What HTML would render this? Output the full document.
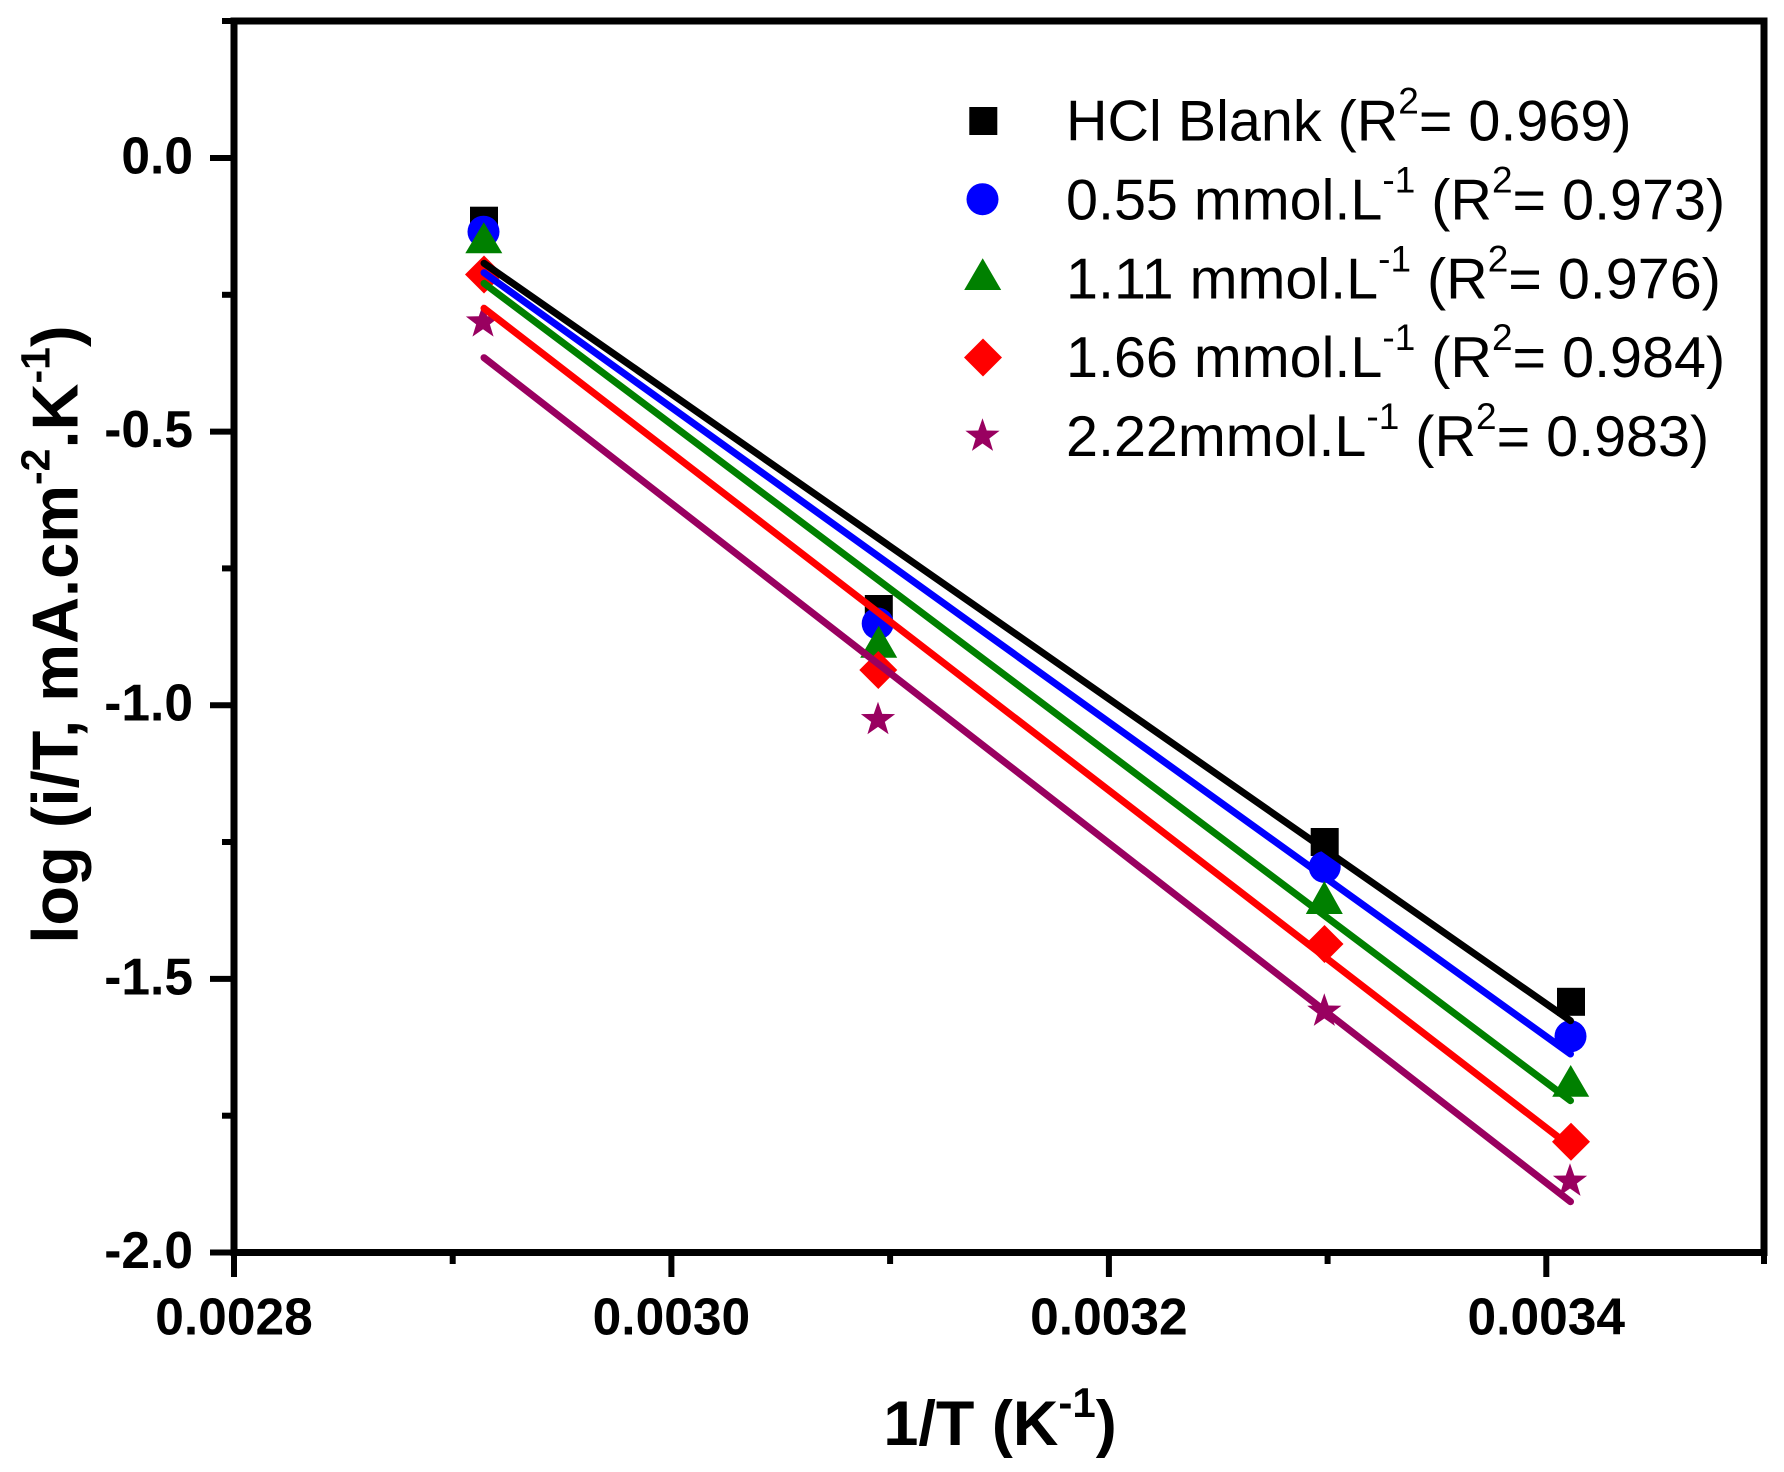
<!DOCTYPE html>
<html>
<head>
<meta charset="utf-8">
<style>
  html, body { margin: 0; padding: 0; background: #ffffff; }
  svg { display: block; }
  text { font-family: "Liberation Sans", Arial, sans-serif; }
</style>
</head>
<body>
<svg width="1784" height="1472" viewBox="0 0 1784 1472" xmlns="http://www.w3.org/2000/svg">
  <defs>
    <path id="star" d="M0,-18 L4.232,-5.825 L17.119,-5.562 L6.848,2.225 L10.58,14.562 L0,7.2 L-10.58,14.562 L-6.848,2.225 L-17.119,-5.562 L-4.232,-5.825 Z"/>
  </defs>
  <rect x="0" y="0" width="1784" height="1472" fill="#ffffff"/>

  <!-- Frame -->
  <rect x="234" y="21" width="1530" height="1231.5" fill="none" stroke="#000" stroke-width="7"/>

  <!-- Y ticks (left, outward) -->
  <g stroke="#000" stroke-width="6">
    <line x1="210" y1="158" x2="234" y2="158"/>
    <line x1="210" y1="431.6" x2="234" y2="431.6"/>
    <line x1="210" y1="705.25" x2="234" y2="705.25"/>
    <line x1="210" y1="978.9" x2="234" y2="978.9"/>
    <line x1="210" y1="1252.5" x2="234" y2="1252.5"/>
    <line x1="222" y1="21" x2="234" y2="21"/>
    <line x1="222" y1="294.8" x2="234" y2="294.8"/>
    <line x1="222" y1="568.4" x2="234" y2="568.4"/>
    <line x1="222" y1="842" x2="234" y2="842"/>
    <line x1="222" y1="1115.7" x2="234" y2="1115.7"/>
  </g>
  <!-- X ticks (bottom, outward) -->
  <g stroke="#000" stroke-width="6">
    <line x1="234" y1="1252.5" x2="234" y2="1277"/>
    <line x1="671.4" y1="1252.5" x2="671.4" y2="1277"/>
    <line x1="1108.9" y1="1252.5" x2="1108.9" y2="1277"/>
    <line x1="1546.3" y1="1252.5" x2="1546.3" y2="1277"/>
    <line x1="452.7" y1="1252.5" x2="452.7" y2="1264"/>
    <line x1="890.1" y1="1252.5" x2="890.1" y2="1264"/>
    <line x1="1327.6" y1="1252.5" x2="1327.6" y2="1264"/>
    <line x1="1764" y1="1252.5" x2="1764" y2="1264"/>
  </g>

  <!-- Y tick labels -->
  <g font-size="51.5" font-weight="bold" text-anchor="end" fill="#000">
    <text x="193" y="173.5">0.0</text>
    <text x="193" y="447">-0.5</text>
    <text x="193" y="720.7">-1.0</text>
    <text x="193" y="994.4">-1.5</text>
    <text x="193" y="1268">-2.0</text>
  </g>
  <!-- X tick labels -->
  <g font-size="51.5" font-weight="bold" text-anchor="middle" fill="#000">
    <text x="234" y="1334.5">0.0028</text>
    <text x="671.4" y="1334.5">0.0030</text>
    <text x="1108.9" y="1334.5">0.0032</text>
    <text x="1546.3" y="1334.5">0.0034</text>
  </g>

  <!-- X axis title -->
  <text x="1000" y="1445" font-size="63" font-weight="bold" text-anchor="middle" fill="#000">1/T (K<tspan font-size="42" dy="-28">-1</tspan><tspan font-size="63" dy="28">)</tspan></text>

  <!-- Y axis title -->
  <g transform="translate(77.3,634.5) rotate(-90)">
    <text x="0" y="0" font-size="65" font-weight="bold" text-anchor="middle" fill="#000">log (i/T, mA.cm<tspan font-size="41" dy="-28">-2</tspan><tspan font-size="65" dy="28">.K</tspan><tspan font-size="41" dy="-28">-1</tspan><tspan font-size="65" dy="28">)</tspan></text>
  </g>

  <!-- Data markers -->
  <g fill="#000">
    <rect x="470" y="206.7" width="28" height="28"/>
    <rect x="864.8" y="595" width="28" height="28"/>
    <rect x="1310.7" y="828" width="28" height="28"/>
    <rect x="1557" y="987.8" width="28" height="28"/>
  </g>
  <g fill="#0000FF">
    <circle cx="483.5" cy="231.7" r="16"/>
    <circle cx="877.7" cy="623.5" r="16"/>
    <circle cx="1324.7" cy="867" r="16"/>
    <circle cx="1570.5" cy="1036.3" r="16"/>
  </g>
  <g fill="#008000">
    <polygon points="483.8,222.3 502.3,253.3 465.3,253.3"/>
    <polygon points="878.7,625.7 897.2,657.7 860.2,657.7"/>
    <polygon points="1324.3,881 1342.8,914 1305.8,914"/>
    <polygon points="1570.7,1065 1589.2,1096.7 1552.2,1096.7"/>
  </g>
  <g fill="#FF0000">
    <polygon points="484,255.5 503,274.5 484,293.5 465,274.5"/>
    <polygon points="878.3,651 897.3,670 878.3,689 859.3,670"/>
    <polygon points="1324.5,925 1343.5,944 1324.5,963 1305.5,944"/>
    <polygon points="1571,1122.8 1590,1141.8 1571,1160.8 1552,1141.8"/>
  </g>
  <g fill="#990060">
    <use href="#star" x="483" y="322.1"/>
    <use href="#star" x="878" y="719.7"/>
    <use href="#star" x="1324.3" y="1011.3"/>
    <use href="#star" x="1570" y="1181.3"/>
  </g>

  <!-- Fit lines -->
  <g stroke-width="7" stroke-linecap="round" fill="none">
    <line x1="484" y1="263.3" x2="1570.5" y2="1020.7" stroke="#000000"/>
    <line x1="484" y1="272.7" x2="1570.5" y2="1054" stroke="#0000FF"/>
    <line x1="484" y1="283.3" x2="1570.5" y2="1100.7" stroke="#008000"/>
    <line x1="484" y1="308.3" x2="1570.5" y2="1146.5" stroke="#FF0000"/>
    <line x1="484" y1="357.7" x2="1570.5" y2="1201.7" stroke="#990060"/>
  </g>

  <!-- Legend symbols -->
  <rect x="969.3" y="107" width="28" height="28" fill="#000"/>
  <circle cx="982.5" cy="199.2" r="16" fill="#0000FF"/>
  <polygon points="982.7,258.3 1001.2,290 964.2,290" fill="#008000"/>
  <polygon points="983,338.5 1002,357.5 983,376.5 964,357.5" fill="#FF0000"/>
  <use href="#star" x="982.5" y="436.3" fill="#990060"/>

  <!-- Legend text -->
  <g font-size="57.5" fill="#000">
    <text x="1066" y="140.7">HCl Blank (R<tspan font-size="37" dy="-27">2</tspan><tspan font-size="57.5" dy="27">= 0.969)</tspan></text>
    <text x="1066" y="219.5">0.55 mmol.L<tspan font-size="37" dy="-27">-1</tspan><tspan font-size="57.5" dy="27"> (R</tspan><tspan font-size="37" dy="-27">2</tspan><tspan font-size="57.5" dy="27">= 0.973)</tspan></text>
    <text x="1066" y="298.3">1.11 mmol.L<tspan font-size="37" dy="-27">-1</tspan><tspan font-size="57.5" dy="27"> (R</tspan><tspan font-size="37" dy="-27">2</tspan><tspan font-size="57.5" dy="27">= 0.976)</tspan></text>
    <text x="1066" y="377">1.66 mmol.L<tspan font-size="37" dy="-27">-1</tspan><tspan font-size="57.5" dy="27"> (R</tspan><tspan font-size="37" dy="-27">2</tspan><tspan font-size="57.5" dy="27">= 0.984)</tspan></text>
    <text x="1066" y="456">2.22mmol.L<tspan font-size="37" dy="-27">-1</tspan><tspan font-size="57.5" dy="27"> (R</tspan><tspan font-size="37" dy="-27">2</tspan><tspan font-size="57.5" dy="27">= 0.983)</tspan></text>
  </g>
</svg>
</body>
</html>
